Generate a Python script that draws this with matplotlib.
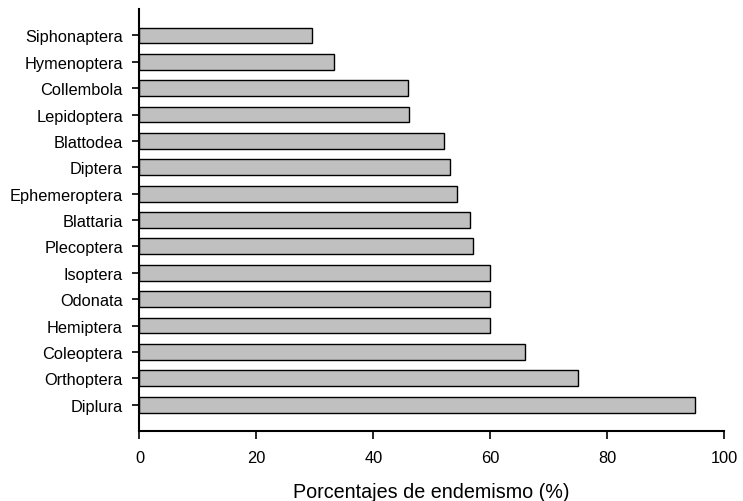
#!/usr/bin/env python3
"""Horizontal bar chart of endemism percentages by insect order."""

import matplotlib
matplotlib.use('Agg')
import matplotlib.pyplot as plt

# Data (top to bottom as shown in the chart)
orders = ['Siphonaptera', 'Hymenoptera', 'Collembola', 'Lepidoptera', 'Blattodea',
          'Diptera', 'Ephemeroptera', 'Blattaria', 'Plecoptera', 'Isoptera',
          'Odonata', 'Hemiptera', 'Coleoptera', 'Orthoptera', 'Diplura']
endemism = [29.6, 33.3, 46.0, 46.1, 52.1,
            53.1, 54.3, 56.5, 57.0, 60.0,
            60.0, 60.0, 66.0, 75.0, 95.0]
x_ticks = [0, 20, 40, 60, 80, 100]

plt.rcParams['font.family'] = ['Liberation Sans', 'DejaVu Sans']

fig = plt.figure(figsize=(7.43, 5.02), dpi=100)
ax = fig.add_axes([0.1877, 0.1394, 0.7867, 0.8406])

# Reverse so the first entry ends up on top
positions = list(range(len(orders)))[::-1]
ax.barh(positions, endemism, height=0.6, color='#c0c0c0',
        edgecolor='black', linewidth=1.0)

ax.set_ylim(-1, len(orders))
ax.set_xlim(0, 100)
ax.set_yticks(positions)
ax.set_yticklabels(orders, fontsize=11.8)
ax.set_xticks(x_ticks)
ax.set_xticklabels([str(t) for t in x_ticks], fontsize=11.8)

ax.set_xlabel('Porcentajes de endemismo (%)', fontsize=14.2, labelpad=12)

# Spines and ticks
ax.spines['top'].set_visible(False)
ax.spines['right'].set_visible(False)
for spine in ['bottom', 'left']:
    ax.spines[spine].set_linewidth(1.5)
ax.tick_params(axis='y', direction='out', length=5, width=1.2, pad=7)
ax.tick_params(axis='x', direction='out', length=6, width=1.2, pad=8)

fig.savefig('out.png', dpi=100)
